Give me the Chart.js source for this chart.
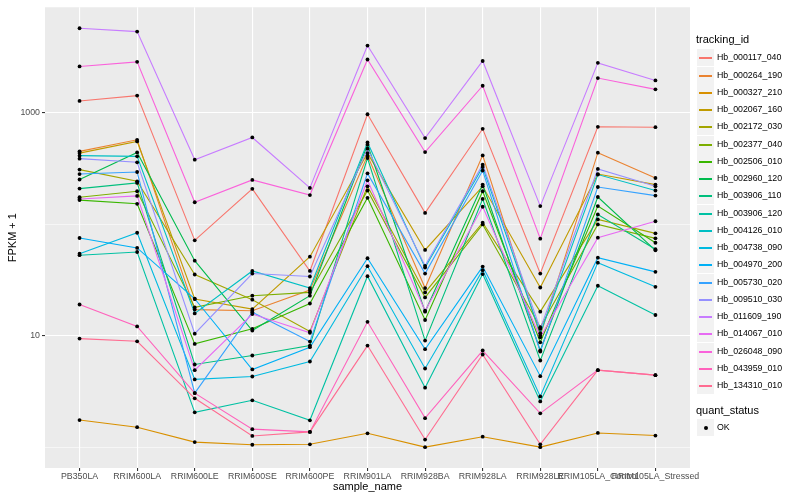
<!DOCTYPE html>
<html>
<head>
<meta charset="utf-8">
<script src="https://cdn.jsdelivr.net/npm/chart.js@4.4.1/dist/chart.umd.min.js"></script>
<style>
  body { margin: 0; background: #fff; }
  #wrap { position: relative; width: 800px; height: 500px; font-family: "Liberation Sans", Arial, sans-serif; }
  #legend div { position: absolute; white-space: nowrap; }
  .ttl { font-size: 11px; color: #000; }
  .lbl { font-size: 8.8px; color: #000; }
  .key { width: 17px; height: 17px; background: #F2F2F2; }
</style>
</head>
<body>
<div id="wrap">
  <canvas id="fpkmChart" width="800" height="500"></canvas>
  <div id="legend"></div>
</div>
<script>
const categories = ['PB350LA', 'RRIM600LA', 'RRIM600LE', 'RRIM600SE', 'RRIM600PE', 'RRIM901LA',
  'RRIM928BA', 'RRIM928LA', 'RRIM928LE', 'RRIM105LA_Control', 'RRIM105LA_Stressed'];

const seriesNames = ['Hb_000117_040', 'Hb_000264_190', 'Hb_000327_210', 'Hb_002067_160', 'Hb_002172_030',
  'Hb_002377_040', 'Hb_002506_010', 'Hb_002960_120', 'Hb_003906_110', 'Hb_003906_120',
  'Hb_004126_010', 'Hb_004738_090', 'Hb_004970_200', 'Hb_005730_020', 'Hb_009510_030',
  'Hb_011609_190', 'Hb_014067_010', 'Hb_026048_090', 'Hb_043959_010', 'Hb_134310_010'];

// FPKM + 1, one value per sample
const hb_000117_040 = [1271, 1419, 71.5, 207, 38, 966, 126, 715, 36, 745, 739];
const hb_000264_190 = [449, 570, 17.1, 16.7, 25.6, 411, 26.7, 413, 10, 437, 259];
const hb_000327_210 = [1.75, 1.51, 1.11, 1.05, 1.06, 1.33, 1.0, 1.24, 1.0, 1.34, 1.27];
const hb_002067_160 = [433, 551, 21.3, 17.3, 51, 433, 58.6, 218, 27, 281, 226];
const hb_002172_030 = [308, 242, 35.3, 21, 10.9, 218, 24.4, 103, 16.4, 110, 82.6];
const hb_002377_040 = [174, 197, 17.9, 22.8, 24.4, 200, 22, 99.4, 11.9, 99.4, 74.5];
const hb_002506_010 = [164, 152, 8.43, 11.5, 19.4, 172, 13.8, 197, 8.71, 145, 68];
const hb_002960_120 = [251, 439, 47, 11.1, 22.8, 515, 16.4, 226, 7.35, 175, 58.2];
const hb_003906_110 = [208, 234, 5.51, 6.63, 8.14, 391, 9.02, 168, 5.98, 122, 59.5];
const hb_003906_120 = [52.6, 56.2, 2.05, 2.63, 1.74, 34.1, 3.41, 35.6, 2.57, 28, 15.3];
const hb_004126_010 = [411, 405, 15.8, 38, 26.7, 540, 40.7, 325, 10.5, 278, 200];
const hb_004738_090 = [54.3, 83.6, 4.05, 4.3, 5.86, 41.9, 5.07, 38.6, 2.85, 45.1, 27.4];
const hb_004970_200 = [75, 61.1, 21.4, 4.97, 7.87, 49.4, 7.55, 41.6, 4.33, 50, 37.3];
const hb_005730_020 = [281, 293, 3.05, 16.2, 8.84, 285, 36, 302, 7.2, 215, 180];
const hb_009510_030 = [386, 358, 10.4, 36, 33.9, 474, 42.2, 341, 11.5, 312, 218];
const hb_011609_190 = [5700, 5320, 378, 598, 211, 3990, 590, 2900, 145, 2790, 1940];
const hb_014067_010 = [168, 179, 4.9, 15.6, 10.6, 247, 16.7, 143, 9.66, 75.5, 106];
const hb_026048_090 = [2590, 2850, 157, 249, 182, 2990, 442, 1740, 74, 2040, 1615];
const hb_043959_010 = [19, 12.1, 3.05, 1.45, 1.37, 13.3, 1.82, 7.35, 2.01, 4.9, 4.42];
const hb_134310_010 = [9.4, 8.89, 2.74, 1.26, 1.37, 8.14, 1.17, 6.77, 1.06, 4.9, 4.42];

const seriesValues = [hb_000117_040, hb_000264_190, hb_000327_210, hb_002067_160, hb_002172_030,
  hb_002377_040, hb_002506_010, hb_002960_120, hb_003906_110, hb_003906_120,
  hb_004126_010, hb_004738_090, hb_004970_200, hb_005730_020, hb_009510_030,
  hb_011609_190, hb_014067_010, hb_026048_090, hb_043959_010, hb_134310_010];

const seriesColors = ['#F8766D', '#EA8331', '#D89000', '#C09B00', '#A3A500', '#7CAE00', '#39B600',
  '#00BB4E', '#00BF7D', '#00C1A3', '#00BFC4', '#00BAE0', '#00B0F6', '#35A2FF', '#9590FF',
  '#C77CFF', '#E76BF3', '#FA62DB', '#FF62BC', '#FF6C91'];

const yGridValues = [1, 10, 100, 1000];
const yLabelValues = [10, 1000];

const family = '"Liberation Sans", Arial, sans-serif';

const toPoints = vals => vals.map((v, i) => ({ x: i, y: v }));

// lines first, points drawn on top (like ggplot)
const lineSets = seriesNames.map((name, k) => ({
  label: name,
  data: toPoints(seriesValues[k]),
  borderColor: seriesColors[k],
  borderWidth: 1.1,
  pointRadius: 0,
  tension: 0,
  order: 1
})).reverse();

const pointSets = seriesNames.map((name, k) => ({
  label: name + ' OK',
  data: toPoints(seriesValues[k]),
  showLine: false,
  pointRadius: 1.9,
  pointBackgroundColor: '#000000',
  pointBorderWidth: 0,
  order: 0
}));

const panelBg = {
  id: 'panelBg',
  beforeDraw(chart) {
    const { ctx, chartArea: a } = chart;
    ctx.save();
    ctx.fillStyle = '#EBEBEB';
    ctx.fillRect(a.left, a.top, a.right - a.left, a.bottom - a.top);
    ctx.restore();
  }
};

const ctx = document.getElementById('fpkmChart').getContext('2d');

new Chart(ctx, {
  type: 'line',
  data: { datasets: lineSets.concat(pointSets) },
  options: {
    responsive: false,
    animation: false,
    layout: { padding: { top: 5, right: 110, left: 0, bottom: 0 } },
    plugins: {
      legend: { display: false },
      tooltip: { enabled: false }
    },
    scales: {
      x: {
        type: 'linear',
        min: -0.6,
        max: 10.6,
        bounds: 'data',
        afterBuildTicks: s => { s.ticks = categories.map((c, i) => ({ value: i })); },
        afterFit: s => { s.height = 32; },
        ticks: {
          autoSkip: false, maxRotation: 0, minRotation: 0, padding: 0,
          color: '#4D4D4D', font: { size: 8.8, family },
          callback: v => categories[v]
        },
        grid: { color: '#FFFFFF', lineWidth: 1.1, tickColor: '#333333', tickLength: 3 },
        border: { display: false },
        title: {
          display: true, text: 'sample_name', color: '#000000',
          font: { size: 11, family }, padding: { top: 0, bottom: 6 }
        }
      },
      y: {
        type: 'logarithmic',
        min: 0.65,
        max: 8790,
        bounds: 'data',
        afterBuildTicks: s => { s.ticks = yGridValues.map(v => ({ value: v })); },
        afterFit: s => { s.width = 45; },
        ticks: {
          padding: 2, color: '#4D4D4D', font: { size: 8.8, family },
          callback: v => yLabelValues.includes(v) ? String(v) : ''
        },
        grid: {
          color: '#FFFFFF',
          lineWidth: c => (c.tick && yLabelValues.includes(c.tick.value)) ? 1.1 : 0.55,
          tickColor: c => (c.tick && yLabelValues.includes(c.tick.value)) ? '#333333' : 'rgba(0,0,0,0)',
          tickLength: 3
        },
        border: { display: false },
        title: {
          display: true, text: 'FPKM + 1', color: '#000000',
          font: { size: 11, family }, padding: { top: 6, bottom: 0 }
        }
      }
    }
  },
  plugins: [panelBg]
});

// legend (html)
const legend = document.getElementById('legend');
function put(cls, x, y, text) {
  const d = document.createElement('div');
  d.className = cls;
  d.style.left = x + 'px';
  d.style.top = y + 'px';
  if (text) d.textContent = text;
  legend.appendChild(d);
  return d;
}
put('ttl', 696, 33, 'tracking_id');
seriesNames.forEach((name, k) => {
  const cy = Math.round(57.3 + k * 17.25);
  put('key', 697, cy - 8);
  const ln = put('', 699, cy);
  ln.style.width = '13px';
  ln.style.height = '1.5px';
  ln.style.background = seriesColors[k];
  put('lbl', 717, cy - 5, name);
});
put('ttl', 696, 404, 'quant_status');
put('key', 697, 419);
const dot = put('', 703.5, 425.5);
dot.style.width = '4px';
dot.style.height = '4px';
dot.style.borderRadius = '2px';
dot.style.background = '#000';
put('lbl', 717, 422, 'OK');
</script>
</body>
</html>
